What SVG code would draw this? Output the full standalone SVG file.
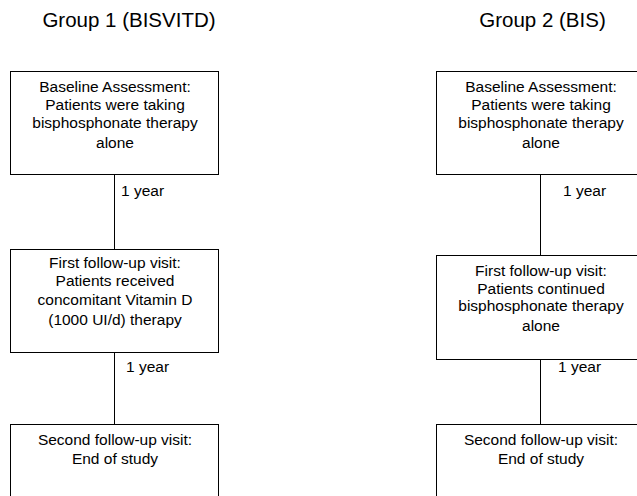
<svg xmlns="http://www.w3.org/2000/svg" width="637" height="496" viewBox="0 0 637 496">
<style>
.box{fill:#fff;stroke:#000;stroke-width:1}
.t{font-family:"Liberation Sans",Arial,sans-serif;font-size:15.5px;fill:#000;text-anchor:middle}
.title{font-family:"Liberation Sans",Arial,sans-serif;font-size:20.5px;fill:#000;text-anchor:middle}
.lbl{font-family:"Liberation Sans",Arial,sans-serif;font-size:15.5px;fill:#000}
.c{stroke:#000;stroke-width:1;fill:none}
</style>
<rect width="637" height="496" fill="#fff"/>
<text class="title" x="129" y="27">Group 1 (BISVITD)</text>
<text class="title" x="542.5" y="27">Group 2 (BIS)</text>
<g id="connectors">
<line class="c" x1="114.5" y1="174" x2="114.5" y2="249"/>
<line class="c" x1="114.5" y1="353" x2="114.5" y2="424"/>
<line class="c" x1="540.5" y1="174" x2="540.5" y2="255"/>
<line class="c" x1="540.5" y1="359" x2="540.5" y2="424"/>
<text class="lbl" x="121" y="196">1 year</text>
<text class="lbl" x="126" y="372">1 year</text>
<text class="lbl" x="563" y="196">1 year</text>
<text class="lbl" x="558" y="372">1 year</text>
</g>
<g id="g1_baseline">
<rect class="box" x="10.5" y="71.5" width="208" height="103"/>
<text class="t" x="115" y="92">Baseline Assessment:</text>
<text class="t" x="115" y="110">Patients were taking</text>
<text class="t" x="115" y="127.5">bisphosphonate therapy</text>
<text class="t" x="115" y="147.5">alone</text>
</g>
<g id="g1_first">
<rect class="box" x="10.5" y="249.5" width="208" height="103"/>
<text class="t" x="115" y="267.5">First follow-up visit:</text>
<text class="t" x="115" y="286">Patients received</text>
<text class="t" x="115" y="304.5">concomitant Vitamin D</text>
<text class="t" x="115" y="325">(1000 UI/d) therapy</text>
</g>
<g id="g1_second">
<rect class="box" x="10.5" y="424.5" width="208" height="103"/>
<text class="t" x="115" y="445">Second follow-up visit:</text>
<text class="t" x="115" y="463.5">End of study</text>
</g>
<g id="g2_baseline">
<rect class="box" x="436.5" y="71.5" width="208" height="103"/>
<text class="t" x="541" y="92">Baseline Assessment:</text>
<text class="t" x="541" y="110">Patients were taking</text>
<text class="t" x="541" y="127.5">bisphosphonate therapy</text>
<text class="t" x="541" y="147.5">alone</text>
</g>
<g id="g2_first">
<rect class="box" x="436.5" y="255.5" width="208" height="104"/>
<text class="t" x="541" y="275.5">First follow-up visit:</text>
<text class="t" x="541" y="293.5">Patients continued</text>
<text class="t" x="541" y="310.5">bisphosphonate therapy</text>
<text class="t" x="541" y="330.5">alone</text>
</g>
<g id="g2_second">
<rect class="box" x="436.5" y="424.5" width="208" height="103"/>
<text class="t" x="541" y="445">Second follow-up visit:</text>
<text class="t" x="541" y="463.5">End of study</text>
</g>
</svg>
